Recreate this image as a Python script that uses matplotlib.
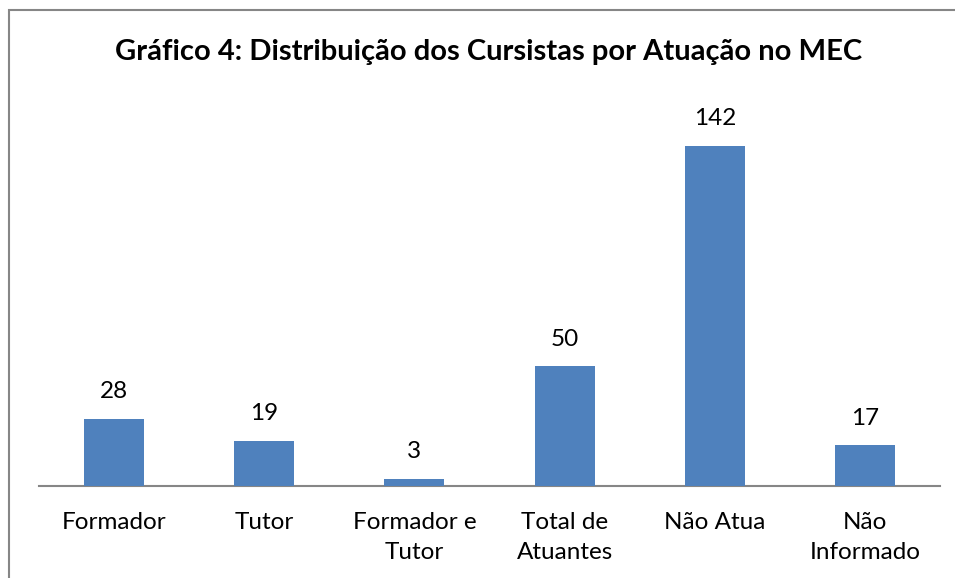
import matplotlib.pyplot as plt
from matplotlib.patches import Rectangle

categories = ['Formador', 'Tutor', 'Formador e\nTutor', 'Total de\nAtuantes', 'Não Atua', 'Não\nInformado']
values = [28, 19, 3, 50, 142, 17]

plt.rcParams['font.family'] = ['Lato', 'DejaVu Sans']

fig = plt.figure(figsize=(9.55, 5.78), dpi=100)
ax = fig.add_axes([39/955, 92/578, 901/955, 383/578])

x = list(range(len(categories)))
bars = ax.bar(x, values, width=0.4, color='#4F81BD', zorder=3)
for xi, v in zip(x, values):
    ax.text(xi, v + 7, str(v), ha='center', va='bottom', fontsize=17.5)

ax.set_xlim(-0.5, len(categories) - 0.5)
ax.set_ylim(0, 160)
ax.set_xticks(x)
ax.set_xticklabels(categories, fontsize=17.5, linespacing=1.5, va='top')
ax.tick_params(axis='x', length=0, pad=19)
ax.set_yticks([])
for s in ['top', 'right', 'left']:
    ax.spines[s].set_visible(False)
ax.spines['bottom'].set_color('#868686')
ax.spines['bottom'].set_linewidth(1.5)

fig.text(489/955, 1 - 52/578, 'Gráfico 4: Distribuição dos Cursistas por Atuação no MEC',
         ha='center', va='center', fontsize=21, fontweight='bold')

# chart border (extends past right/bottom edge)
fig.patches.append(Rectangle((9/955, -0.05), 1.0, 1 - 10/578 + 0.05, transform=fig.transFigure,
                             fill=False, edgecolor='#868686', linewidth=1.5))

fig.savefig('out.png', dpi=100)
